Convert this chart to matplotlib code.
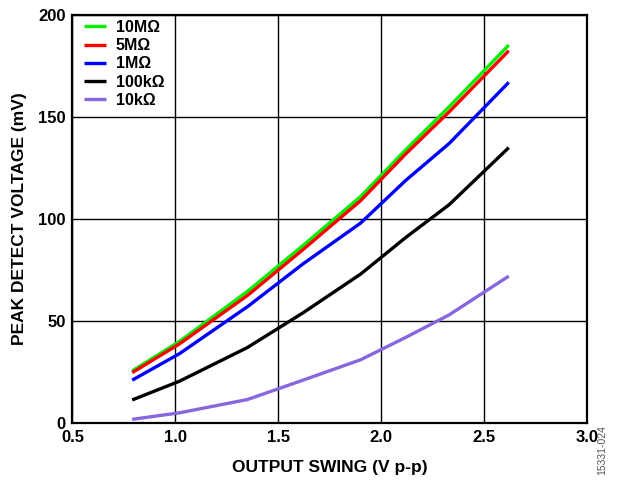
import matplotlib
matplotlib.use('Agg')
import matplotlib.pyplot as plt

plt.rcParams['font.family'] = ['Liberation Sans', 'DejaVu Sans']
plt.rcParams['font.weight'] = 'bold'

# output swing (V p-p)
swing = [0.79, 1.02, 1.35, 1.62, 1.9, 2.12, 2.33, 2.62]

# peak detect voltage (mV) per load
v_10M = [25.5, 40, 64.5, 87, 111, 134, 155, 185.3]
v_5M = [24.7, 38.8, 62.5, 85, 109, 132, 152.5, 182.5]
v_1M = [21, 34, 57, 78, 98, 119, 137, 167]
v_100k = [11.3, 20.5, 37, 54, 73, 91, 107, 135]
v_10k = [1.8, 5, 11.5, 21, 31, 42, 53, 72]

labels = ['10M\u03a9', '5M\u03a9', '1M\u03a9', '100k\u03a9', '10k\u03a9']
colors = ['#00ee00', '#ff0000', '#0000ff', '#000000', '#8866dd']

fig = plt.figure(figsize=(6.26, 4.87), dpi=100)
ax = fig.add_axes([0.1158, 0.1314, 0.8219, 0.8378])

for ys, lab, col in zip([v_10M, v_5M, v_1M, v_100k, v_10k], labels, colors):
	ax.plot(swing, ys, color=col, lw=2.4, label=lab, solid_capstyle='butt')

ax.set_xlim(0.5, 3.0)
ax.set_ylim(0, 200)
ax.set_xticks([0.5, 1.0, 1.5, 2.0, 2.5, 3.0])
ax.set_xticklabels(['0.5', '1.0', '1.5', '2.0', '2.5', '3.0'])
ax.set_yticks([0, 50, 100, 150, 200])
ax.grid(True, color='black', lw=1.0)
ax.tick_params(length=0, labelsize=12, pad=5)
for s in ax.spines.values():
	s.set_linewidth(1.6)

ax.set_xlabel('OUTPUT SWING (V p-p)', fontsize=12.5, fontweight='bold', labelpad=11)
ax.set_ylabel('PEAK DETECT VOLTAGE (mV)', fontsize=12.5, fontweight='bold', labelpad=8)

leg = ax.legend(loc='upper left', bbox_to_anchor=(0.0, 1.015), frameon=False, fontsize=11.5,
	handlelength=1.4, handletextpad=0.6, labelspacing=0.2, borderaxespad=0.3)
for t in leg.get_texts():
	t.set_fontweight('bold')

fig.text(0.962, 0.075, '15331-024', rotation=90, fontsize=7.5, color='#555555',
	ha='center', va='center', fontweight='normal')

fig.savefig('out.png', dpi=100)
